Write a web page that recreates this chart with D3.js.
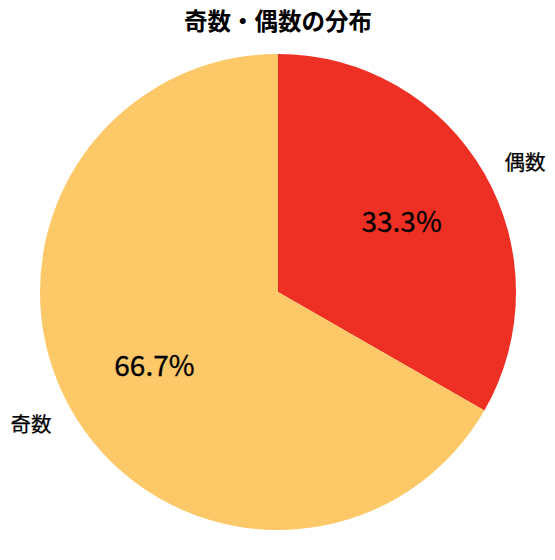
<!DOCTYPE html>
<html><head><meta charset="utf-8">
<script src="https://cdn.jsdelivr.net/npm/d3@7"></script>
<style>body{margin:0;background:#fff}svg{display:block}text{font-family:"Noto Sans CJK JP","Noto Sans",sans-serif}</style>
</head><body>
<script>
const categories = ["偶数", "奇数"];
const values = [33.3, 66.7];
const colors = ["#EE3024", "#FDC868"];
const title = "奇数・偶数の分布";

const W = 555, H = 560, cx = 278, cy = 292, R = 238;
const svg = d3.select("body").append("svg").attr("width", W).attr("height", H);
svg.append("text").attr("x", cx).attr("y", 20).attr("text-anchor", "middle")
  .attr("dominant-baseline", "central").attr("font-size", 23.5).attr("font-weight", "bold").text(title);

const data = categories.map((c, i) => ({c, v: values[i], col: colors[i]}));
const pie = d3.pie().value(d => d.v).sort(null);
const arcs = pie(data);
const arc = d3.arc().innerRadius(0).outerRadius(R);
const g = svg.append("g").attr("transform", `translate(${cx},${cy})`);
g.selectAll("path").data(arcs).join("path").attr("d", arc).attr("fill", d => d.data.col);

const pos = (a, r) => [r * Math.sin(a), -r * Math.cos(a)];
arcs.forEach(a => {
  const m = (a.startAngle + a.endAngle) / 2;
  const [lx, ly] = pos(m, R * 1.1);
  g.append("text").attr("x", lx).attr("y", ly)
    .attr("text-anchor", lx >= 0 ? "start" : "end").attr("dominant-baseline", "central")
    .attr("font-size", 20.5).attr("stroke", "#000").attr("stroke-width", 0.25).text(a.data.c);
  const [px, py] = pos(m, R * 0.6);
  g.append("text").attr("x", px).attr("y", py).attr("text-anchor", "middle")
    .attr("dominant-baseline", "central").attr("font-size", 28)
    .attr("stroke", "#000").attr("stroke-width", 0.3).text(a.data.v.toFixed(1) + "%");
});
</script>
</body></html>
